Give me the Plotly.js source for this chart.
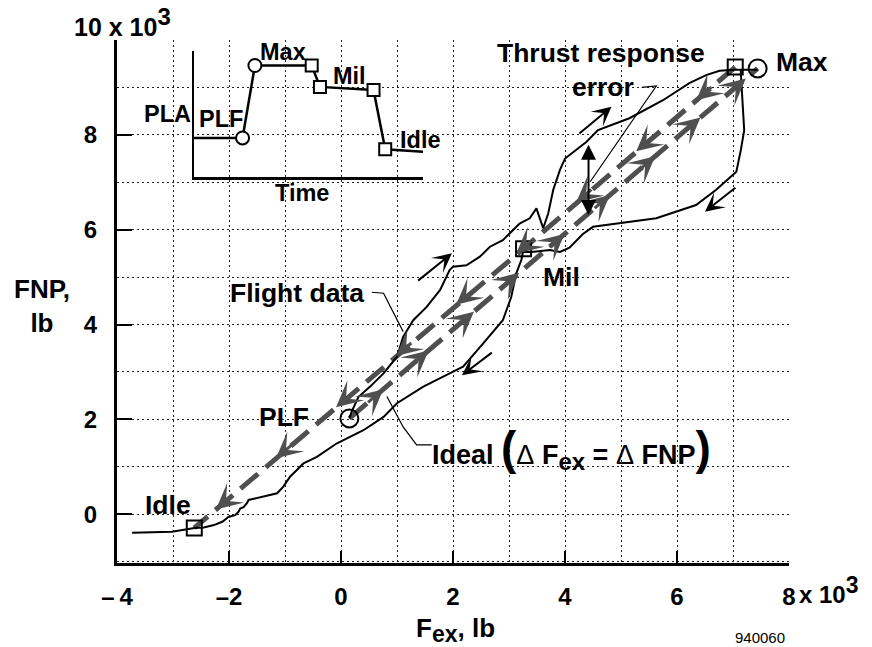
<!DOCTYPE html>
<html><head><meta charset="utf-8">
<script src="https://cdn.plot.ly/plotly-3.0.1.min.js"></script>
<style>html,body{margin:0;padding:0;background:#fff;}#chart{width:872px;height:647px;}</style>
</head><body><div id="chart"></div>
<script>
// ---------------- DATA (thousands of lb) ----------------
// Flight data: PLF -> Max (upper branch), Max -> Mil (right branch), Mil -> Idle (lower branch)
const flightX = [0.15,0.19,0.31,0.52,0.76,1.00,1.11,1.29,1.53,1.77,1.94,2.00,2.24,2.48,2.66,2.89,3.19,3.37,3.49,3.61,3.70,3.79,3.91,4.00,4.38,4.59,5.15,5.75,6.22,6.52,6.76,7.04,7.44,
  7.14,7.14,7.17,7.20,7.14,7.06,6.70,6.34,5.63,5.15,4.92,4.50,4.32,4.08,3.91,3.73,3.40,3.25,
  3.22,3.13,3.04,2.89,2.54,2.18,1.94,1.47,1.00,0.76,0.40,-0.08,-0.43,-0.67,-0.91,-1.03,-1.14,-1.56,-1.65,-1.68,-1.74,-1.80,-1.83,-1.89,-2.01,-2.12,-2.27,-2.45,-2.62,-2.75,-2.84,-3.02,-3.73];
const flightY = [2.02,2.16,2.47,2.69,2.97,3.32,3.74,4.09,4.37,4.73,5.15,5.22,5.25,5.43,5.64,5.78,6.13,6.24,6.45,6.03,6.34,6.84,7.26,7.50,7.85,8.10,8.35,8.73,9.09,9.26,9.35,9.37,9.37,
  9.37,9.30,8.73,8.10,7.68,7.22,6.84,6.52,6.24,6.17,6.13,6.06,5.91,5.62,5.53,5.57,5.53,5.53,
  5.36,5.08,4.58,4.09,3.60,3.11,2.97,2.69,2.34,2.05,1.77,1.49,1.21,1.07,0.79,0.58,0.44,0.33,0.30,0.23,0.15,0.12,0.05,-0.02,-0.06,-0.16,-0.23,-0.28,-0.29,-0.32,-0.34,-0.37,-0.39];
// Ideal response (dFex = dFNP)
const idealUpX = [0.15, 7.44];          // PLF -> Max
const idealUpY = [2.02, 9.40];
const idealDownX = [7.04, 3.26, -2.62]; // Max -> Mil -> Idle
const idealDownY = [9.43, 5.60, -0.29];
// Throttle points
const circleX = [0.15, 7.44];  const circleY = [2.02, 9.40];          // PLF, Max
const squareX = [7.04, 3.26, -2.62]; const squareY = [9.43, 5.60, -0.29]; // Max end, Mil, Idle
// Inset PLA time history (arbitrary units)
const insetTime = [0, 2.12, 2.66, 5.14, 5.50, 7.84, 8.35, 10];
const insetPLA  = [3.1, 3.1, 8.85, 8.85, 7.15, 6.9, 2.2, 2.0];
const insetCircleIdx = [1, 2];
const insetSquareIdx = [3, 4, 5, 6];
// Ticks
const xTickVals = [-4,-2,0,2,4,6,8];
const xTickText = ['\u2013\u20094','\u20132','0','2','4','6','8'];
const yTickVals = [0,2,4,6,8,10];
const yTickText = ['0','2','4','6','8',''];

// ---------------- LAYOUT HELPERS ----------------
const W = 872, H = 647, ML = 117, MR = 83, MT = 40, MB = 84;
const PW = W - ML - MR, PH = H - MT - MB;
const XR = [-4, 8], YR = [-1.03, 10];
const FONT = '"Liberation Sans", Arial, Helvetica, sans-serif';
const pxX = PW / (XR[1] - XR[0]), pxY = PH / (YR[1] - YR[0]);
function paper(px, py) { return {x: (px - ML) / PW, y: (H - MB - py) / PH}; }

const GRID = '#222', GDASH = '2px,3px';
const DASHCOL = '#4f4f4f';

const traces = [
  {x: idealUpX, y: idealUpY, mode: 'lines', line: {color: DASHCOL, width: 5, dash: '23px,10px'}, hoverinfo: 'skip'},
  {x: idealDownX, y: idealDownY, mode: 'lines', line: {color: DASHCOL, width: 5, dash: '23px,10px'}, hoverinfo: 'skip'},
  {x: flightX, y: flightY, mode: 'lines', line: {color: '#000', width: 2}, hoverinfo: 'skip'},
  {x: circleX, y: circleY, mode: 'markers', cliponaxis: false, marker: {symbol: 'circle-open', size: 18, color: '#000', line: {width: 2, color: '#000'}}},
  {x: squareX, y: squareY, mode: 'markers', cliponaxis: false, marker: {symbol: 'square-open', size: 15, color: '#000', line: {width: 2, color: '#000'}}},
  // inset
  {x: insetTime, y: insetPLA, xaxis: 'x2', yaxis: 'y2', mode: 'lines', cliponaxis: false, line: {color: '#000', width: 2.5}},
  {x: insetCircleIdx.map(i => insetTime[i]), y: insetCircleIdx.map(i => insetPLA[i]), xaxis: 'x2', yaxis: 'y2', mode: 'markers', cliponaxis: false,
   marker: {symbol: 'circle', size: 13, color: '#fff', line: {width: 2, color: '#000'}}},
  {x: insetSquareIdx.map(i => insetTime[i]), y: insetSquareIdx.map(i => insetPLA[i]), xaxis: 'x2', yaxis: 'y2', mode: 'markers', cliponaxis: false,
   marker: {symbol: 'square', size: 12, color: '#fff', line: {width: 2, color: '#000'}}}
];

const ann = [];
function txt(s, px, py, size, opts) {
  const p = paper(px, py);
  ann.push(Object.assign({text: s, x: p.x, y: p.y, xref: 'paper', yref: 'paper', showarrow: false,
    xanchor: 'center', yanchor: 'middle', font: {family: FONT, size: size, color: '#000', weight: 'bold'}}, opts || {}));
}
// main labels
txt('Thrust response', 601, 53, 26.5);
txt('error', 603, 87, 26.5);
txt('Max', 802, 62, 26.5);
txt('Mil', 561, 277, 26.5);
txt('Flight data', 297, 293, 26.5);
txt('PLF', 284, 417, 26.5);
txt('Idle', 168, 505, 26.5);
txt('Ideal <span style="font-size:46px">(</span><span style="font-weight:normal">\u0394</span> F<sub><span style="font-size:24px">ex</span></sub> = <span style="font-weight:normal">\u0394</span> FNP<span style="font-size:46px">)</span>', 430, 448, 27, {xanchor: 'left'});
// inset labels
txt('PLA', 167, 114, 23.5);
txt('PLF', 221, 119, 23.5);
txt('Max', 283, 52, 23.5);
txt('Mil', 349, 76, 23.5);
txt('Idle', 420, 140, 23.5);
txt('Time', 302, 193, 23.5);
// axis titles & multipliers
txt('FNP,<br>lb', 42, 306, 26);
txt('F<sub><span style="font-size:23px">ex</span></sub>, lb', 455, 630, 26);
txt('10 x 10<sup><span style="font-size:24px">3</span></sup>', 72, 22, 25, {xanchor: 'left'});
txt('x 10<sup><span style="font-size:23px">3</span></sup>', 797, 590, 24, {xanchor: 'left'});
txt('940060', 760, 637, 15, {font: {family: FONT, size: 15, color: '#000'}});

// arrowheads along the ideal lines
function lineArrows(xs, ys, t0, dt, n) {
  const x0 = xs[0], y0 = ys[0], x1 = xs[xs.length - 1], y1 = ys[ys.length - 1];
  const dxp = (x1 - x0) * pxX, dyp = -(y1 - y0) * pxY;
  const len = Math.hypot(dxp, dyp), ux = dxp / len, uy = dyp / len;
  const L = 22;
  for (let k = 0; k < n; k++) {
    const t = t0 + dt * k;
    ann.push({x: x0 + t * (x1 - x0), y: y0 + t * (y1 - y0), xref: 'x', yref: 'y', ax: -ux * L, ay: -uy * L,
      showarrow: true, arrowhead: 3, arrowsize: 1.45, arrowwidth: 3, arrowcolor: DASHCOL, text: ''});
  }
}
lineArrows(idealUpX, idealUpY, 0.083, 0.111, 9);
lineArrows(idealDownX, idealDownY, 0.072, 0.111, 9);

// flight direction arrows
function arr(tx, ty, hx, hy) {
  ann.push({x: hx, y: hy, ax: tx, ay: ty, xref: 'x', yref: 'y', axref: 'x', ayref: 'y', text: '', showarrow: true,
    arrowhead: 3, arrowsize: 1.6, arrowwidth: 2, arrowcolor: '#000'});
}
arr(4.23, 8.00, 4.83, 8.59);
arr(7.07, 6.91, 6.50, 6.38);
arr(1.35, 4.90, 1.98, 5.50);
arr(2.72, 3.43, 2.16, 2.93);
// thrust response error double arrow
ann.push({x: 4.42, y: 6.31, ax: 4.42, ay: 7.82, xref: 'x', yref: 'y', axref: 'x', ayref: 'y', text: '', showarrow: true,
  arrowhead: 2, startarrowhead: 2, arrowside: 'end+start', arrowsize: 1.5, startarrowsize: 1.5, arrowwidth: 2, arrowcolor: '#000'});

const leader = {type: 'path', xref: 'x', yref: 'y', line: {color: '#000', width: 1.2}};
const shapes = [
  Object.assign({path: 'M0.55,4.68 L0.76,4.66 L1.11,3.85'}, leader),
  Object.assign({path: 'M1.62,1.46 L1.35,1.46 L1.11,1.84 L0.82,2.48'}, leader),
  Object.assign({path: 'M5.37,9.00 L5.63,9.03 L4.45,7.01'}, leader)
];

const axisCommon = {showline: true, linecolor: '#000', zeroline: false, ticks: 'inside', tickcolor: '#000',
  showgrid: true, gridcolor: GRID, gridwidth: 1, griddash: GDASH, fixedrange: true,
  tickfont: {family: FONT, size: 24, color: '#000', weight: 'bold'}};

const layout = {
  width: W, height: H, margin: {l: ML, r: MR, t: MT, b: MB, pad: 0},
  paper_bgcolor: '#fff', plot_bgcolor: 'rgba(0,0,0,0)', showlegend: false,
  font: {family: FONT, color: '#000'},
  xaxis: Object.assign({}, axisCommon, {range: XR, tickmode: 'array', tickvals: xTickVals, ticktext: xTickText,
    ticklen: 12, tickwidth: 2, linewidth: 3, ticklabelstandoff: 10,
    minor: {tickmode: 'linear', tick0: 0, dtick: 1, ticks: '', showgrid: true, gridcolor: GRID, gridwidth: 1, griddash: GDASH}}),
  yaxis: Object.assign({}, axisCommon, {range: YR, tickmode: 'array', tickvals: yTickVals, ticktext: yTickText,
    ticklen: 15, tickwidth: 2, linewidth: 3, ticklabelstandoff: 12,
    minor: {tickmode: 'linear', tick0: 0, dtick: 1, ticks: '', showgrid: true, gridcolor: GRID, gridwidth: 1, griddash: GDASH}}),
  xaxis2: {domain: [paper(194, 0).x, paper(423, 0).x], anchor: 'y2', range: [0, 10], showline: true, linewidth: 2.5, linecolor: '#000',
    showgrid: false, zeroline: false, showticklabels: false, ticks: '', fixedrange: true},
  yaxis2: {domain: [paper(0, 177).y, paper(0, 51).y], anchor: 'x2', range: [0, 10], showline: true, linewidth: 2.5, linecolor: '#000',
    showgrid: false, zeroline: false, showticklabels: false, ticks: '', fixedrange: true},
  annotations: ann,
  shapes: shapes
};

Plotly.newPlot('chart', traces, layout, {staticPlot: true, displayModeBar: false});
</script>
</body></html>
